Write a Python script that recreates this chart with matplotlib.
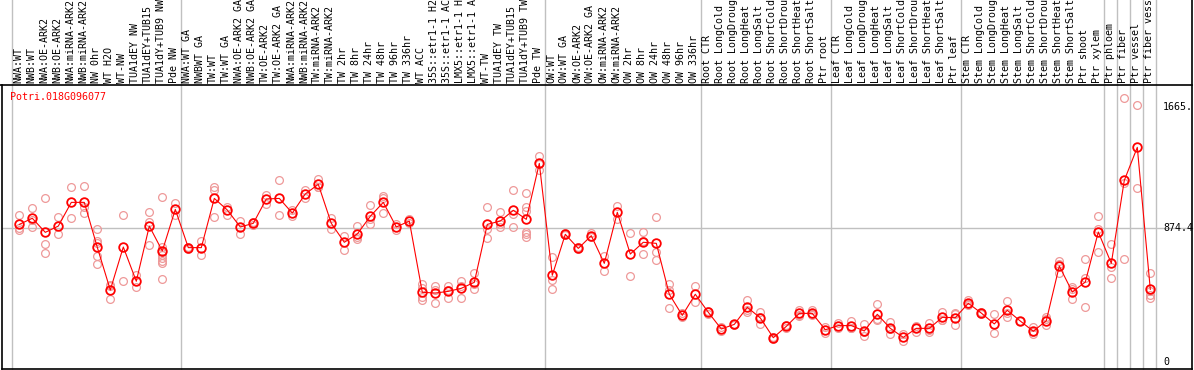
import matplotlib
matplotlib.use('Agg')

import numpy as np
import matplotlib.pyplot as plt

gene = 'Potri.018G096077'

labels = [
    # group 1
    'NWA:WT', 'NWB:WT', 'NWA:OE-ARK2', 'NWB:OE-ARK2', 'NWA:miRNA-ARK2',
    'NWB:miRNA-ARK2', 'NW 0hr', 'WT H2O', 'WT-NW', 'TUA1dEY NW',
    'TUA1dEY+TUB15', 'TUA1dY+TUB9 NW', 'Pde NW',
    # group 2
    'NWA:WT GA', 'NWBWT GA', 'TW:WT', 'TW:WT GA', 'NWA:OE-ARK2 GA',
    'NWB:OE-ARK2 GA', 'TW:OE-ARK2', 'TW:OE-ARK2 GA', 'NWA:miRNA-ARK2',
    'NWB:miRNA-ARK2', 'TW:miRNA-ARK2', 'TW:miRNA-ARK2', 'TW 2hr', 'TW 8hr',
    'TW 24hr', 'TW 48hr', 'TW 96hr', 'TW 336hr', 'WT ACC', '35S::etr1-1 H2',
    '35S::etr1-1 AC', 'LMX5::etr1-1 H', 'LMX5::etr1-1 A', 'WT-TW',
    'TUA1dEY TW', 'TUA1dEY+TUB15', 'TUA1dY+TUB9 TW', 'Pde TW',
    # group 3
    'OW:WT', 'OW:WT GA', 'OW:OE-ARK2', 'OW:OE-ARK2 GA', 'OW:miRNA-ARK2',
    'OW:miRNA-ARK2', 'OW 2hr', 'OW 8hr', 'OW 24hr', 'OW 48hr', 'OW 96hr',
    'OW 336hr',
    # root
    'Root CTR', 'Root LongCold', 'Root LongDroug', 'Root LongHeat',
    'Root LongSalt', 'Root ShortCold', 'Root ShortDrou', 'Root ShortHeat',
    'Root ShortSalt', 'Ptr root',
    # leaf
    'Leaf CTR', 'Leaf LongCold', 'Leaf LongDroug', 'Leaf LongHeat',
    'Leaf LongSalt', 'Leaf ShortCold', 'Leaf ShortDrou', 'Leaf ShortHeat',
    'Leaf ShortSalt', 'Ptr leaf',
    # stem
    'Stem CTR', 'Stem LongCold', 'Stem LongDroug', 'Stem LongHeat',
    'Stem LongSalt', 'Stem ShortCold', 'Stem ShortDrou', 'Stem ShortHeat',
    'Stem ShortSalt', 'Ptr shoot', 'Ptr xylem',
    'Ptr phloem', 'Ptr fiber', 'Ptr vessel', 'Ptr fiber vess',
]
group_sizes = [13, 28, 12, 10, 10, 11, 1, 1, 1, 1]

means = [
    900, 940, 848, 889, 1044, 1044, 750, 471, 752, 528, 889, 726, 998,
    748, 748, 1070, 994, 883, 907, 1066, 1070, 974, 1099, 1162, 907, 783,
    837, 953, 1044, 883, 922, 456, 451, 462, 482, 521, 900, 922, 992, 933,
    1299,
    567, 835, 743, 826, 645, 979, 706, 783, 776, 443, 305, 443,
    325, 216, 246, 358, 288, 159, 233, 318, 318, 211,
    238, 238, 203, 312, 220, 161, 220, 220, 292, 290,
    384, 320, 249, 338, 268, 201, 270, 628, 458, 523, 850,
    645, 1188, 1404, 475,
]

reps = [
    [961, 874, 866], [1007, 883, 930], [1070, 770, 713], [946, 835],
    [1145, 944], [1151, 1016, 972], [870, 791, 776, 693, 641],
    [504, 497, 412], [961, 530], [569, 493], [979, 918, 765],
    [1077, 541, 754, 720, 700, 680, 660, 650], [1038, 961],
    [755, 742], [791, 700], [1147, 1125, 948], [1016, 961], [924, 835],
    [918, 896], [1092, 1033], [1190, 959], [994, 955], [1125, 1073],
    [1197, 1147, 1142], [944, 870], [826, 730], [889, 802, 820],
    [1025, 900, 934], [1086, 972, 1074], [905, 861], [933, 911],
    [510, 427, 405, 482], [497, 470, 384], [497, 416, 473],
    [530, 416, 500], [580, 508, 475], [1012, 870, 809], [979, 883, 905],
    [1123, 966, 881], [1103, 1016, 990, 850, 837, 815], [1345, 1256, 1296],
    [685, 536, 480], [842, 828], [750, 736], [844, 818], [695, 597],
    [1023, 935], [842, 562], [852, 706, 791], [948, 722, 665],
    [510, 471, 351], [318, 292], [497, 390],
    [334, 316], [230, 200], [251, 240], [405, 329, 340], [325, 246, 293],
    [165, 150], [240, 225], [342, 310, 302], [338, 305, 311], [230, 192],
    [258, 220], [269, 220, 225], [246, 170, 193], [379, 275, 282],
    [264, 181, 215], [181, 140], [238, 225, 197], [258, 194, 208],
    [325, 275, 276], [312, 240, 318],
    [405, 370, 377], [329, 318, 313], [312, 187], [399, 292, 323],
    [268, 268], [227, 195, 181], [292, 240, 278], [661, 580, 643],
    [488, 410, 476], [671, 547, 358], [953, 870, 722],
    [770, 624, 547], [1724, 1169, 671], [1679, 1136], [584, 438, 416, 462],
]

tick_vals = [0, 874.4, 1665.8]
tick_text = ['0', '874.4', '1665.']

W, H = 1194, 370
fig = plt.figure(figsize=(W / 100, H / 100), dpi=100)
ax = fig.add_axes([0, 0, 1, 1])
ax.axis('off')

# pixel layout: column i at x0 + dx*i, value v at y_zero - k*v (pixels from top)
x0, dx = 19.3, 13.0
y_zero, k = 362.0, 0.1529
ax.set_xlim(-x0 / dx, (W - x0) / dx)
ax.set_ylim((y_zero - H) / k, y_zero / k)

def px(x):
    return (x - x0) / dx

def py(y):
    return (y_zero - y) / k

FONT = 'DejaVu Sans Mono'
FS = 7.2
GRAY = '#c0c0c0'

# group separators
bounds = np.concatenate([[0], np.cumsum(group_sizes)])
for b in bounds:
    ax.plot([b - 0.6, b - 0.6], [py(0), py(369)], color=GRAY, lw=1, zorder=1)

# reference line at the middle tick
ax.plot([px(1.5), px(1192)], [tick_vals[1], tick_vals[1]], color=GRAY, lw=1, zorder=1)

# frame
ax.plot([px(0), px(1192)], [py(85), py(85)], color='black', lw=1.2, zorder=2)
ax.plot([px(1.5), px(1.5)], [py(85), py(369)], color='black', lw=1.2, zorder=2)
ax.plot([px(1192), px(1192)], [py(0), py(369)], color='black', lw=1.2, zorder=2)
ax.plot([px(1.5), px(1192)], [py(369), py(369)], color='black', lw=1.2, zorder=2)

# column labels
for i, lab in enumerate(labels):
    ax.text(i - 0.1, py(83), lab, rotation=90, ha='center', va='bottom',
            family=FONT, fontsize=FS, color='black', zorder=3)

# replicates
for i, r in enumerate(reps):
    ax.plot([i] * len(r), r, 'o', ms=5.6, mfc='none', mec='#ee9999', mew=0.9, zorder=4)

# means
xs = np.arange(len(means))
ax.plot(xs, means, '-', color='red', lw=0.8, zorder=5)
ax.plot(xs, means, 'o', ms=6.2, mfc='none', mec='red', mew=1.3, zorder=6)

# scale labels
tr = ax.get_yaxis_transform()
for v, t in zip(tick_vals, tick_text):
    ax.text(1163 / W, v, t, transform=tr, ha='left', va='center',
            family=FONT, fontsize=FS, color='black', zorder=3)

ax.text(px(10), py(97), gene, ha='left', va='center', family=FONT,
        fontsize=FS, color='red', zorder=3)

fig.savefig('out.png', dpi=100)
